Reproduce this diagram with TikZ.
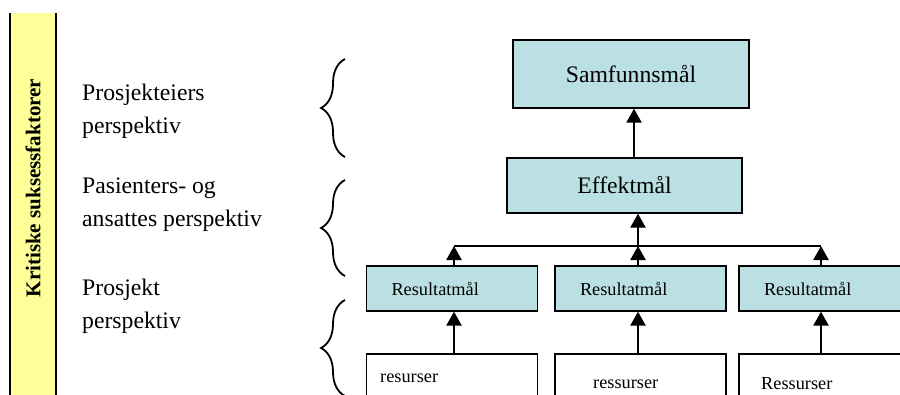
\documentclass[tikz,border=0pt]{standalone}
\usepackage{fontspec}
\setmainfont{Liberation Serif}
\usetikzlibrary{arrows.meta,decorations.pathreplacing}
\definecolor{goalfill}{HTML}{BBE0E3}
\definecolor{barfill}{HTML}{FFFF99}
\tikzset{
  goalbig/.style={draw=black, line width=1.3pt, fill=goalfill, inner sep=0pt,
    font=\fontsize{23.7}{28}\selectfont},
  goalsmall/.style={draw=black, line width=1.3pt, fill=goalfill, inner ysep=0pt,
    inner xsep=25pt, text width=121pt, align=left, minimum height=45pt,
    font=\fontsize{18.3}{22}\selectfont},
  resbox/.style={draw=black, line width=1.3pt, fill=white, minimum width=171pt,
    minimum height=60pt, inner sep=0pt},
  restext/.style={inner sep=0pt, anchor=west, font=\fontsize{18.3}{22}\selectfont},
  persp/.style={inner sep=0pt, anchor=west, align=left,
    font=\fontsize{23.7}{33}\selectfont},
  arr/.style={line width=2.4pt, -{Triangle[length=14pt,width=15pt]}},
  thinline/.style={line width=1.3pt},
  bracestyle/.style={line width=1.8pt, decorate,
    decoration={brace, amplitude=24pt}},
}
\begin{document}
\begin{tikzpicture}[x=1pt,y=-1pt]
\useasboundingbox (0,0) rectangle (900,394);
\clip (0,0) rectangle (900,394);

% yellow bar
\path[fill=barfill] (10,13) rectangle (56,400);
\draw[line width=1.5pt] (10,400) -- (10,13);
\draw[line width=2pt] (56,13) -- (56,400);
\node[rotate=90, inner sep=0pt, font=\fontsize{21}{24}\selectfont\bfseries]
  (ksf) at (33,188) {Kritiske suksessfaktorer};

% perspective labels
\node[persp] (p1) at (82,111.5) {Prosjekteiers\\perspektiv};
\node[persp] (p2) at (82,205) {Pasienters- og\\ansattes perspektiv};
\node[persp] (p3) at (82,306.5) {Prosjekt\\perspektiv};

% braces
\draw[bracestyle] (345,157) -- (345,59);
\draw[bracestyle] (345,276) -- (345,180);
\draw[bracestyle] (345,396) -- (345,300);

% goal boxes
\node[goalbig, minimum width=236pt, minimum height=68pt] (sam) at (631,74) {Samfunnsm\aa l};
\node[goalbig, minimum width=235pt, minimum height=55pt] (eff) at (624.5,185.5) {Effektm\aa l};

\node[goalsmall] (r1) at (452,288.5) {Resultatm\aa l};
\node[goalsmall] (r2) at (640.5,288.5) {Resultatm\aa l};
\node[goalsmall] (r3) at (824.5,288.5) {Resultatm\aa l};

\node[resbox] (res1) at (452,384) {};
\node[resbox] (res2) at (640.5,384) {};
\node[resbox] (res3) at (824.5,384) {};
\node[restext] (t1) at (380,378) {resurser};
\node[restext] (t2) at (593,384) {ressurser};
\node[restext] (t3) at (761,384) {Ressurser};

% connectors
\coordinate (a0) at (634,0);
\coordinate (j1) at (454,246);
\coordinate (j2) at (638,246);
\coordinate (j3) at (821,246);

\draw[arr] (eff.north -| a0) -- (sam.south -| a0);
\draw[thinline] (j1) -- (j3);
\draw[arr] (j2) -- (eff.south -| j2);
\draw[arr] (r1.north -| j1) -- (j1);
\draw[arr] (r2.north -| j2) -- (j2);
\draw[arr] (r3.north -| j3) -- (j3);
\draw[arr] (res1.north -| j1) -- (r1.south -| j1);
\draw[arr] (res2.north -| j2) -- (r2.south -| j2);
\draw[arr] (res3.north -| j3) -- (r3.south -| j3);
\end{tikzpicture}
\end{document}
